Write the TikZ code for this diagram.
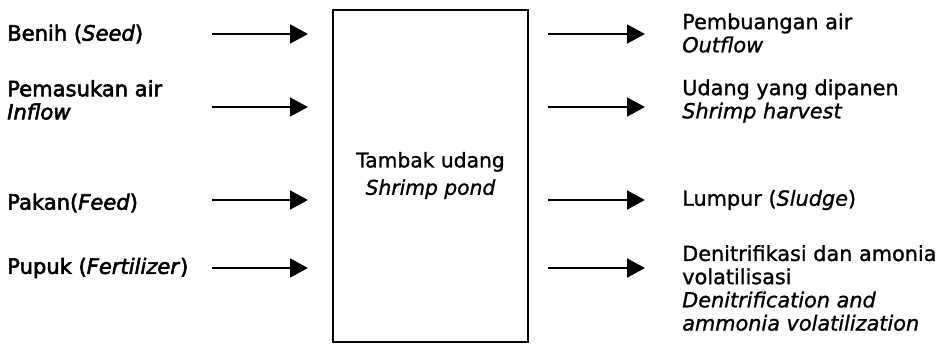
\documentclass[tikz,border=0pt]{standalone}
\usepackage{fontspec}
\setmainfont{DejaVu Sans}
\newfontfamily\heavyfont{DejaVu Sans}[FakeBold=2.6]
\newfontfamily\midfont{DejaVu Sans}[FakeBold=1.2]
\usetikzlibrary{arrows.meta}
\tikzset{
  lbl/.style={anchor=west, align=left, inner sep=0pt, font=\fontsize{15.6}{17.4}\selectfont\midfont},
  lblb/.style={lbl, font=\fontsize{15.8}{17.4}\selectfont\heavyfont},
  flow/.style={line width=2.2pt, -{Triangle[length=13.5pt,width=14pt]}},
  pond/.style={draw, line width=1.5pt, minimum width=146pt, minimum height=249pt, inner sep=0pt, align=center, font=\fontsize{15.2}{20.5}\selectfont\midfont}
}
\begin{document}
\begin{tikzpicture}[x=0.75pt,y=-0.75pt]
\useasboundingbox (0,0) rectangle (942,343);
\node[pond] (box) at (430.5,175.5) {Tambak udang\\\textit{Shrimp pond}};
% left labels
\node[lblb] (in1) at (7,34) {Benih (\textit{Seed})};
\node[lblb] (in2) at (7,100) {Pemasukan air\\\textit{Inflow}};
\node[lblb] (in3) at (7,203) {Pakan(\textit{Feed})};
\node[lblb] (in4) at (7,268) {Pupuk (\textit{Fertilizer})};
% right labels
\node[lbl] (out1) at (682,33) {Pembuangan air\\\textit{Outflow}};
\node[lbl] (out2) at (682,101) {Udang yang dipanen\\\textit{Shrimp harvest}};
\node[lbl] (out3) at (682,200) {Lumpur (\textit{Sludge})};
\node[lbl] (out4) at (682,288) {Denitrifikasi dan amonia\\volatilisasi\\\textit{Denitrification and}\\\textit{ammonia volatilization}};
% arrow endpoints
\foreach \i/\y in {1/34,2/107,3/200,4/268}{
  \coordinate (ls\i) at (212,\y);
  \coordinate (le\i) at (308,\y);
  \coordinate (rs\i) at (548,\y);
  \coordinate (re\i) at (645,\y);
}
\foreach \i in {1,2,3,4}{
  \draw[flow] (ls\i) -- (le\i);
  \draw[flow] (rs\i) -- (re\i);
}
\end{tikzpicture}
\end{document}
